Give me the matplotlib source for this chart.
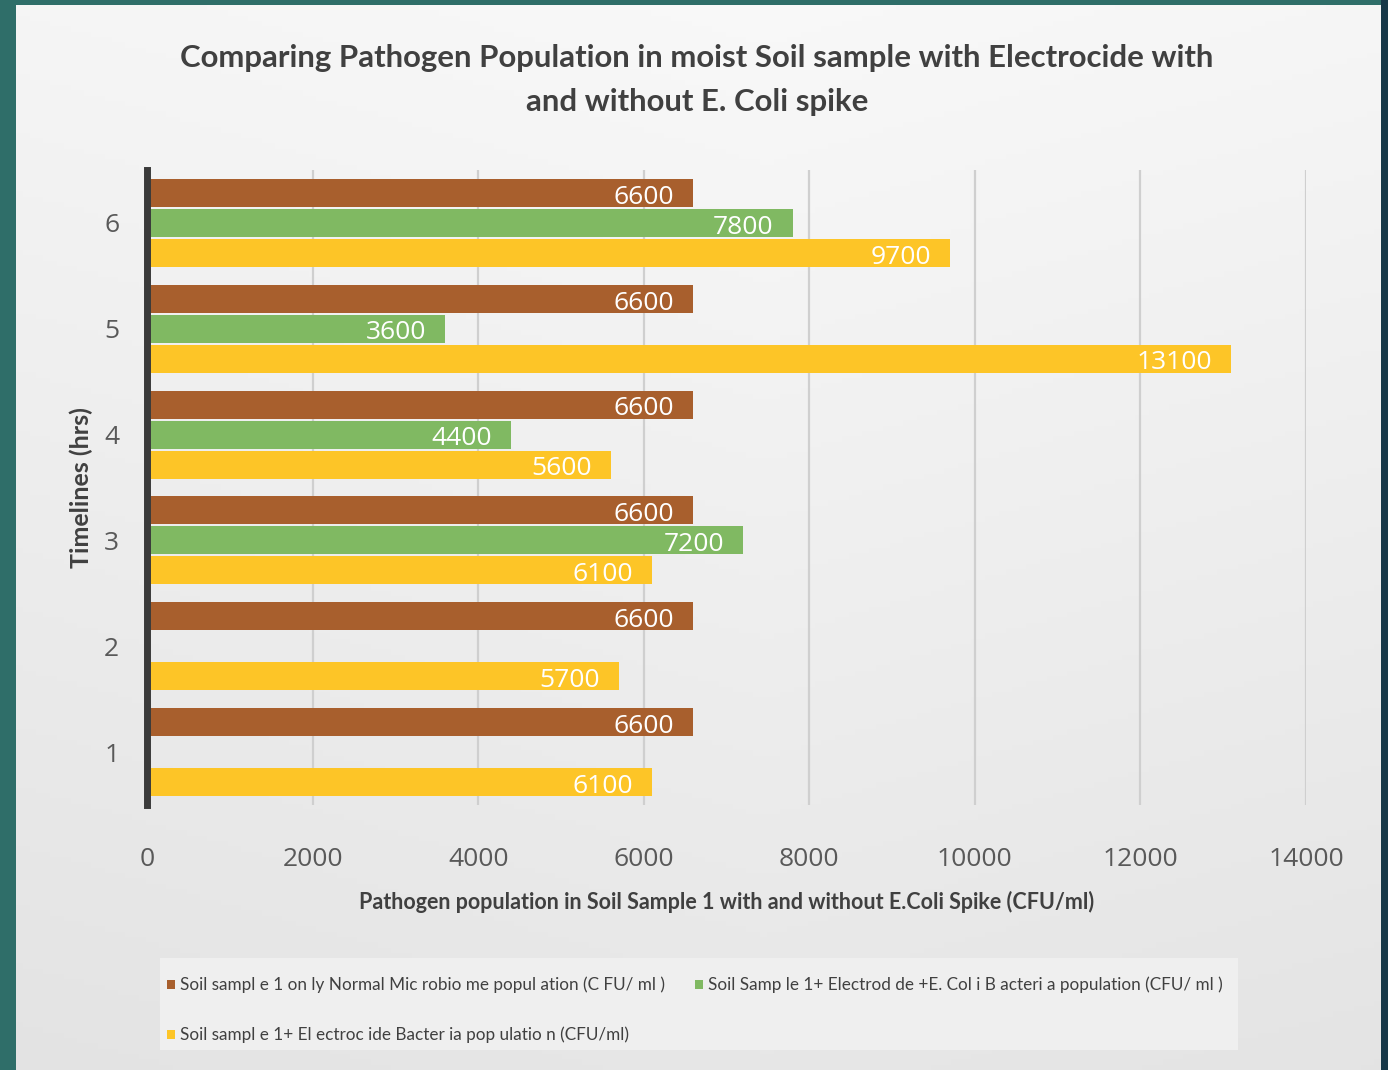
import numpy as np
import matplotlib
matplotlib.use("Agg")
import matplotlib.pyplot as plt
from matplotlib.patches import Rectangle

# ---- data ----
timelines = [1, 2, 3, 4, 5, 6]
normal_microbiome = [6600, 6600, 6600, 6600, 6600, 6600]
electrocide_ecoli = [None, None, 7200, 4400, 3600, 7800]
electrocide_only = [6100, 5700, 6100, 5600, 13100, 9700]
x_ticks = [0, 2000, 4000, 6000, 8000, 10000, 12000, 14000]

series_names = [
    "Soil sampl e 1 on ly Normal Mic robio me popul ation (C FU/ ml )",
    "Soil Samp le 1+ Electrod de +E. Col i B acteri a population (CFU/ ml )",
    "Soil sampl e 1+ El ectroc ide Bacter ia pop ulatio n (CFU/ml)",
]
colors = ["#A85F2D", "#80B962", "#FDC527"]

title = "Comparing Pathogen Population in moist Soil sample with Electrocide with\nand without E. Coli spike"
xlabel = "Pathogen population in Soil Sample 1 with and without E.Coli Spike (CFU/ml)"
ylabel = "Timelines (hrs)"

FONT = ["Lato", "DejaVu Sans"]
plt.rcParams["font.family"] = FONT

W, H = 1388, 1070
fig = plt.figure(figsize=(W / 100, H / 100), dpi=100)
fig.patch.set_facecolor("#2F6E69")

# background panel with gradient
bg = fig.add_axes([16 / W, 0, (1381 - 16) / W, 1 - 5 / H])
bg.set_axis_off()
yy = np.linspace(0, 1, 200)[:, None]
xx = np.linspace(0, 1, 200)[None, :]
val = 0.975 - 0.07 * yy - 0.025 * np.abs(xx - 0.55)
img = np.dstack([val, val, val])
bg.imshow(img, aspect="auto", extent=[0, 1, 1, 0])
bg.set_xlim(0, 1)
bg.set_ylim(1, 0)
# right dark strip
fig.patches.append(Rectangle((1381 / W, 0), 7 / W, 1, transform=fig.transFigure,
                             facecolor="#173848", edgecolor="none", zorder=0))

ax = fig.add_axes([147 / W, 1 - 805 / H, (1306 - 147) / W, (805 - 170) / H])
ax.set_facecolor("none")

bh = 0.265
off = 0.283
y = np.array(timelines, dtype=float)
series = [normal_microbiome, electrocide_ecoli, electrocide_only]
handles = []
for i, (vals, c) in enumerate(zip(series, colors)):
    pos = y + off * (1 - i)
    v = np.array([np.nan if a is None else a for a in vals], dtype=float)
    h = ax.barh(pos, np.nan_to_num(v), height=bh, color=c, edgecolor="none", zorder=3,
                label=series_names[i])
    handles.append(h)
    for p, a in zip(pos, vals):
        if a is None:
            continue
        ax.text(a - 230, p - 0.04, f"{a}", ha="right", va="center", color="white",
                fontsize=19, zorder=4, family=["Open Sans", "DejaVu Sans"])

ax.set_xlim(0, 14000)
ax.set_ylim(0.5, 6.5)
ax.set_xticks(x_ticks)
ax.set_xticklabels([str(t) for t in x_ticks], fontsize=19, color="#595959",
                   family=["Open Sans", "DejaVu Sans"])
ax.set_yticks(timelines)
ax.set_yticklabels([str(t) for t in timelines], fontsize=19, color="#595959",
                   family=["Open Sans", "DejaVu Sans"])
ax.tick_params(axis="x", length=0, pad=30)
ax.tick_params(axis="y", length=0, pad=20)
ax.grid(axis="x", color="#CFCFCF", linewidth=1.6, zorder=1)
for s in ["top", "right", "bottom"]:
    ax.spines[s].set_visible(False)
ax.spines["left"].set_linewidth(5)
ax.spines["left"].set_color("#3A3A3A")
ax.spines["left"].set_zorder(5)

ax.set_xlabel(xlabel, fontsize=15.5, fontweight="bold", color="#404040", labelpad=14)
ax.set_ylabel(ylabel, fontsize=18, fontweight="bold", color="#404040", labelpad=8)

fig.text(697 / W, 1 - 80 / H, title, ha="center", va="center", fontsize=22.4,
         fontweight="bold", color="#404040", linespacing=1.7)

# legend
fig.patches.append(Rectangle((160 / W, 1 - 1050 / H), (1238 - 160) / W, (1050 - 958) / H,
                             transform=fig.transFigure, facecolor="#EFEFEF",
                             edgecolor="none", zorder=1))
leg = fig.legend([handles[0], handles[2], handles[1]],
                 [series_names[0], series_names[2], series_names[1]],
                 loc="upper left", bbox_to_anchor=(160 / W, 1 - 970 / H), ncol=2,
                 frameon=False, fontsize=12.3, handlelength=0.45, handleheight=0.45,
                 handletextpad=0.3, columnspacing=1.8, labelspacing=1.95,
                 borderaxespad=0)
for t in leg.get_texts():
    t.set_color("#404040")

fig.savefig("out.png", dpi=100, facecolor=fig.get_facecolor())
